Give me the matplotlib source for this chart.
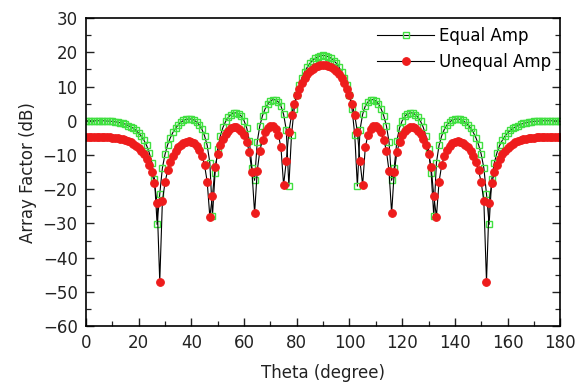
import numpy as np
import matplotlib
matplotlib.use("Agg")
import matplotlib.pyplot as plt
from matplotlib.ticker import MultipleLocator

# Theta in degrees, one sample per degree
theta = list(range(0, 181))

# Array factor (dB), equal amplitude excitation
equal_amp = [
    0.0, 0.0, 0.0, 0.0, 0.0, 0.0, 0.0, 0.0, -0.1, -0.1,
    -0.2, -0.3, -0.4, -0.6, -0.8, -1.0, -1.4, -1.8, -2.2, -2.8,
    -3.6, -4.5, -5.7, -7.2, -9.3, -12.2, -17.0, -30.3, -21.4, -13.8,
    -9.8, -7.0, -5.0, -3.4, -2.2, -1.2, -0.5, 0.1, 0.4, 0.5,
    0.5, 0.2, -0.4, -1.2, -2.5, -4.4, -7.2, -12.2, -27.9, -15.2,
    -8.2, -4.4, -1.9, -0.2, 1.0, 1.8, 2.3, 2.3, 2.0, 1.3,
    0.0, -2.1, -5.8, -13.7, -17.4, -6.1, -1.4, 1.5, 3.5, 4.9,
    5.8, 6.2, 6.1, 5.5, 4.3, 1.9, -2.6, -19.1, -4.1, 3.3,
    7.4, 10.4, 12.6, 14.3, 15.7, 16.8, 17.6, 18.3, 18.7, 19.0,
    19.1,
    19.0, 18.7, 18.3, 17.6, 16.8, 15.7, 14.3, 12.6, 10.4, 7.4,
    3.3, -4.1, -19.1, -2.6, 1.9, 4.3, 5.5, 6.1, 6.2, 5.8,
    4.9, 3.5, 1.5, -1.4, -6.1, -17.4, -13.7, -5.8, -2.1, 0.0,
    1.3, 2.0, 2.3, 2.3, 1.8, 1.0, -0.2, -1.9, -4.4, -8.2,
    -15.2, -27.9, -12.2, -7.2, -4.4, -2.5, -1.2, -0.4, 0.2, 0.5,
    0.5, 0.4, 0.1, -0.5, -1.2, -2.2, -3.4, -5.0, -7.0, -9.8,
    -13.8, -21.4, -30.3, -17.0, -12.2, -9.3, -7.2, -5.7, -4.5, -3.6,
    -2.8, -2.2, -1.8, -1.4, -1.0, -0.8, -0.6, -0.4, -0.3, -0.2,
    -0.1, -0.1, 0.0, 0.0, 0.0, 0.0, 0.0, 0.0, 0.0, 0.0,
]

# Array factor (dB), unequal amplitude excitation
unequal_amp = [
    -4.7, -4.7, -4.7, -4.7, -4.7, -4.7, -4.7, -4.8, -4.8, -4.8,
    -4.9, -5.0, -5.1, -5.2, -5.4, -5.7, -6.0, -6.3, -6.8, -7.3,
    -8.0, -8.8, -9.8, -11.1, -12.8, -15.0, -18.3, -24.1, -47.0, -23.5,
    -18.0, -14.5, -12.0, -10.2, -8.8, -7.8, -7.0, -6.4, -6.1, -6.0,
    -6.2, -6.6, -7.3, -8.5, -10.2, -13.0, -17.8, -28.0, -22.0, -13.6,
    -9.7, -7.1, -5.2, -3.9, -2.9, -2.2, -1.9, -1.9, -2.3, -3.0,
    -4.2, -6.1, -9.2, -14.9, -27.0, -14.6, -8.7, -5.5, -3.4, -2.2,
    -1.6, -1.6, -2.4, -4.1, -7.8, -18.8, -11.9, -3.2, 1.6, 4.9,
    7.4, 9.4, 11.1, 12.4, 13.6, 14.5, 15.2, 15.7, 16.1, 16.3,
    16.4,
    16.3, 16.1, 15.7, 15.2, 14.5, 13.6, 12.4, 11.1, 9.4, 7.4,
    4.9, 1.6, -3.2, -11.9, -18.8, -7.8, -4.1, -2.4, -1.6, -1.6,
    -2.2, -3.4, -5.5, -8.7, -14.6, -27.0, -14.9, -9.2, -6.1, -4.2,
    -3.0, -2.3, -1.9, -1.9, -2.2, -2.9, -3.9, -5.2, -7.1, -9.7,
    -13.6, -22.0, -28.0, -17.8, -13.0, -10.2, -8.5, -7.3, -6.6, -6.2,
    -6.0, -6.1, -6.4, -7.0, -7.8, -8.8, -10.2, -12.0, -14.5, -18.0,
    -23.5, -47.0, -24.1, -18.3, -15.0, -12.8, -11.1, -9.8, -8.8, -8.0,
    -7.3, -6.8, -6.3, -6.0, -5.7, -5.4, -5.2, -5.1, -5.0, -4.9,
    -4.8, -4.8, -4.8, -4.7, -4.7, -4.7, -4.7, -4.7, -4.7, -4.7,
]

plt.rcParams['font.family'] = ['DejaVu Sans']
fs = 12

fig = plt.figure(figsize=(5.77, 3.85), dpi=100)
ax = fig.add_axes([0.149, 0.153, 0.822, 0.800])

ax.plot(theta, equal_amp, '-', color='black', lw=0.8,
        marker='s', ms=4.5, mfc='none', mec='#40e040', mew=1.0,
        label='Equal Amp')
ax.plot(theta, unequal_amp, '-', color='black', lw=0.8,
        marker='o', ms=5.5, mfc='#ee1c1c', mec='#ee1c1c', mew=0.8,
        label='Unequal Amp')

ax.set_xlim(0, 180)
ax.set_ylim(-60, 30)
ax.xaxis.set_major_locator(MultipleLocator(20))
ax.xaxis.set_minor_locator(MultipleLocator(10))
ax.yaxis.set_major_locator(MultipleLocator(10))
ax.yaxis.set_minor_locator(MultipleLocator(5))
ax.tick_params(which='both', direction='in', right=True, top=False,
               labelsize=fs, colors='#222222')
ax.tick_params(which='major', length=6, width=1.0, pad=6)
ax.tick_params(which='minor', length=3.5, width=0.9)
for sp in ax.spines.values():
    sp.set_linewidth(1.2)

ax.set_xlabel("Theta (degree)", fontsize=fs, labelpad=8, color='#222222')
ax.set_ylabel("Array Factor (dB)", fontsize=fs, labelpad=4, color='#222222')

ax.legend(loc='upper right', frameon=False, fontsize=fs, numpoints=1,
          handlelength=3.4, handletextpad=0.3, borderaxespad=0.15,
          labelspacing=0.45)

fig.savefig("out.png", dpi=100)
